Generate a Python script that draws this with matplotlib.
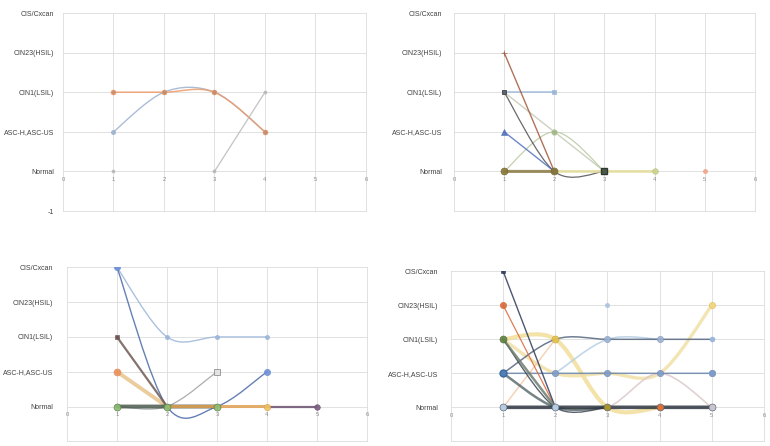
import numpy as np
import matplotlib
matplotlib.use("Agg")
import matplotlib.pyplot as plt
from matplotlib.path import Path
from matplotlib.patches import PathPatch

plt.rcParams["font.family"] = ["Liberation Sans", "DejaVu Sans"]

# visit number on the x axis, cytology grade on the y axis
visits = [1, 2, 3, 4, 5]
grades = ["-1", "Normal", "ASC-H,ASC-US", "CIN1(LSIL)", "CIN23(HSIL)", "CIS/Cxcan"]
grade_ticks = [-1, 0, 1, 2, 3, 4]
x_ticks = [0, 1, 2, 3, 4, 5, 6]
nan = np.nan

# panel 1 (top left)
p1_blue = [1, 2, 2, 1, nan]
p1_orange = [2, 2, 2, 1, nan]
p1_gray = [0, nan, 0, 2, nan]

# panel 2 (top right)
p2_brown = [3, 0, nan, nan, nan]
p2_blue = [2, 2, nan, nan, nan]
p2_dark = [2, 0, 0, nan, nan]
p2_sage = [2, 1, 0, nan, nan]
p2_green = [0, 1, 0, nan, nan]
p2_tri = [1, 0, nan, nan, nan]
p2_olive = [0, 0, nan, nan, nan]
p2_yellow = [nan, 0, 0, 0, nan]
p2_salmon = [nan, nan, nan, nan, 0]

# panel 3 (bottom left)
p3_light = [4, 2, 2, 2, nan]
p3_navy = [4, 0, 0, 1, nan]
p3_brown = [2, 0, nan, nan, nan]
p3_orange = [1, 0, nan, nan, nan]
p3_gray = [0, 0, 1, nan, nan]
p3_green = [0, 0, 0, nan, nan]
p3_gold = [nan, 0, 0, 0, nan]
p3_purple = [nan, nan, nan, 0, 0]

# panel 4 (bottom right)
p4_navy = [4, 0, nan, nan, nan]
p4_red = [3, 0, nan, nan, nan]
p4_green = [2, 0, nan, nan, nan]
p4_yellow1 = [2, 2, 0, 0, nan]
p4_yellow2 = [2, 1, 1, 1, 3]
p4_tan = [0, 2, nan, nan, nan]
p4_steel = [1, 2, 2, 2, 2]
p4_sky = [nan, 1, 2, 2, nan]
p4_blue = [1, 1, 1, 1, 1]
p4_pink = [nan, 0, 0, 1, 0]
p4_dot = [nan, nan, 3, nan, nan]
p4_base = [0, 0, 0, 0, 0]
p4_teal = [1, 0, 0, nan, nan]
p4_slate = [2, 0, 0, nan, nan]


def runs(vals):
    """Split a series into runs of consecutive valid points."""
    out, cur = [], []
    for x, y in zip(visits, vals):
        if np.isnan(y):
            if cur:
                out.append(cur)
            cur = []
        else:
            cur.append((x, y))
    if cur:
        out.append(cur)
    return out


def smooth_path(pts):
    """Excel-like smoothed line: cubic bezier segments (Catmull-Rom controls)."""
    p = np.array(pts, dtype=float)
    verts = [p[0]]
    codes = [Path.MOVETO]
    n = len(p)
    for i in range(n - 1):
        prev = p[i - 1] if i > 0 else p[i]
        nxt = p[i + 2] if i + 2 < n else p[i + 1]
        c1 = p[i] + (p[i + 1] - prev) / 6.0
        c2 = p[i + 1] - (nxt - p[i]) / 6.0
        verts += [c1, c2, p[i + 1]]
        codes += [Path.CURVE4] * 3
    return Path(verts, codes)


def draw(ax, vals, color, lw=1.0, marker="o", ms=3, mfc=None, mec=None,
         alpha=0.85, smooth=True, mark_at=None):
    for run in runs(vals):
        if len(run) > 1:
            if smooth:
                patch = PathPatch(smooth_path(run), fill=False, edgecolor=color,
                                  lw=lw, alpha=alpha, capstyle="round", zorder=3)
                ax.add_patch(patch)
            else:
                xs, ys = zip(*run)
                ax.plot(xs, ys, color=color, lw=lw, alpha=alpha, zorder=3,
                        solid_capstyle="round")
    if marker:
        xs = [x for x, y in zip(visits, vals) if not np.isnan(y)]
        ys = [y for y in vals if not np.isnan(y)]
        if mark_at is not None:
            sel = [i for i, x in enumerate(xs) if x in mark_at]
            xs = [xs[i] for i in sel]
            ys = [ys[i] for i in sel]
        ax.plot(xs, ys, ls="none", marker=marker, ms=ms,
                mfc=mfc or color, mec=mec or color, mew=0.5, alpha=0.9, zorder=4)


def setup(ax, show_minus, ypad):
    for side in ("top", "right", "left"):
        ax.spines[side].set_visible(False)
    # x tick labels sit on the zero line, like the original
    ax.spines["bottom"].set_position(("data", 0))
    ax.spines["bottom"].set_visible(False)
    ax.set_xlim(0, 6)
    ax.set_ylim(-1, 4)
    ax.set_xticks(x_ticks)
    ax.set_xticklabels([str(t) for t in x_ticks])
    ax.set_yticks(grade_ticks)
    labels = list(grades)
    if not show_minus:
        labels[0] = ""
    ax.set_yticklabels(labels)
    ax.tick_params(length=0)
    ax.tick_params(axis="y", pad=ypad, labelsize=5.0, labelcolor="#404040")
    ax.tick_params(axis="x", pad=4, labelsize=4.2, labelcolor="#8a8a8a")
    ax.grid(True, color="#dcdcdc", lw=0.6)
    for line in ax.get_xgridlines() + ax.get_ygridlines():
        line.set_clip_on(False)
    ax.set_axisbelow(True)


fig = plt.figure(figsize=(7.7, 4.46), dpi=100, facecolor="white")
ax1 = fig.add_axes([0.0818, 0.5269, 0.3935, 0.4439])
ax2 = fig.add_axes([0.5896, 0.5269, 0.3909, 0.4439])
ax3 = fig.add_axes([0.0870, 0.0105, 0.3896, 0.3901])
ax4 = fig.add_axes([0.5857, 0.0105, 0.4065, 0.3812])

setup(ax1, True, 6.5)
setup(ax2, False, 8.5)
setup(ax3, False, 10)
setup(ax4, False, 9.4)

# panel 1
draw(ax1, p1_blue, "#9cb2cf", lw=1.0, ms=3)
draw(ax1, p1_orange, "#ef9a6a", lw=1.1, ms=3.5, mfc="#c98a66")
draw(ax1, p1_gray, "#b8b8b8", lw=0.9, ms=2.2, smooth=False)

# panel 2
draw(ax2, p2_sage, "#c3c9b5", lw=1.0, marker=None)
draw(ax2, p2_green, "#b8c8a0", lw=0.9, ms=4, mfc="#9fb487", mark_at=[2])
draw(ax2, p2_blue, "#96b4da", lw=1.1, marker="s", ms=3, smooth=False)
draw(ax2, p2_dark, "#505050", lw=0.9, marker="s", ms=3.5, mfc="#5a5a5a", mec="#303030")
draw(ax2, p2_brown, "#a35a3c", lw=1.0, marker="+", ms=5, smooth=False, mark_at=[1])
draw(ax2, p2_tri, "#5472bc", lw=1.0, marker="^", ms=4, smooth=False, mark_at=[1])
draw(ax2, p2_yellow, "#e4dc9a", lw=2.0, marker="o", ms=4, mfc="#cbd28c", mec="#b8c080",
     mark_at=[4])
draw(ax2, p2_olive, "#8a7a44", lw=2.2, ms=5, mfc="#8c7a3a", mec="#6e6030")
draw(ax2, p2_salmon, "#f0a486", marker="o", ms=3)
ax2.plot([3], [0], ls="none", marker="s", ms=4.5, mfc="#4a5a4a", mec="#303830", zorder=5)

# panel 3
draw(ax3, p3_light, "#9cb6da", lw=1.0, ms=3)
draw(ax3, p3_navy, "#4a6aa8", lw=1.0, ms=4.5, mfc="#6f8fd6", mec="#6f8fd6", mark_at=[1, 4])
draw(ax3, p3_gray, "#9e9e9e", lw=0.9, marker="s", ms=3.8, mfc="#e4e4e4", mec="#707070",
     mark_at=[3])
draw(ax3, p3_orange, "#e8c48c", lw=2.8, ms=5, mfc="#e8905c", mec="#e8905c", smooth=False,
     mark_at=[1])
draw(ax3, p3_brown, "#6e5a56", lw=1.6, marker="s", ms=3.5, mfc="#6e5052", smooth=False,
     mark_at=[1])
draw(ax3, p3_green, "#4a5a4e", lw=2.8, ms=5, mfc="#8cbe6e", mec="#5a7a4a")
draw(ax3, p3_gold, "#e0a050", lw=2.2, ms=4.5, mfc="#f2c466", mec="#d8a040", mark_at=[4])
draw(ax3, p3_purple, "#6a5070", lw=1.6, ms=4, mfc="#7a6082", smooth=False, mark_at=[5])

# panel 4
draw(ax4, p4_yellow1, "#f0dc94", lw=3.0, alpha=0.8, ms=5, mfc="#e6c24c", mec="#c8a840",
     mark_at=[2])
draw(ax4, p4_yellow2, "#f0dfa0", lw=2.4, alpha=0.8, ms=4.5, mfc="#f0d67a", mec="#e0c060",
     mark_at=[5])
draw(ax4, p4_tan, "#f2c8a2", lw=1.0, marker=None, smooth=False)
draw(ax4, p4_pink, "#dccaca", lw=1.2, marker=None)
draw(ax4, p4_sky, "#b8cfe6", lw=1.2, marker=None)
draw(ax4, p4_steel, "#56667e", lw=1.1, ms=4.5, mfc="#9cb2d2", mec="#8aa0c0", mark_at=[3, 4])
draw(ax4, p4_blue, "#6a86ad", lw=1.1, ms=4.5, mfc="#7f9cc8", mec="#6f8cb8")
ax4.plot([5], [2], ls="none", marker="o", ms=3, mfc="#9cb6dc", mec="#9cb6dc", zorder=5)
ax4.plot([5], [1], ls="none", marker="o", ms=4, mfc="#7f9cc8", mec="#7f9cc8", zorder=5)
draw(ax4, p4_dot, "#aac2e0", ms=3)
draw(ax4, p4_teal, "#5e6e70", lw=1.8, marker=None)
draw(ax4, p4_slate, "#3e4656", lw=1.0, marker=None)
draw(ax4, p4_red, "#d8683a", lw=0.9, ms=4.5, smooth=False, mark_at=[1])
draw(ax4, p4_navy, "#2e3a5c", lw=1.0, marker="s", ms=2.8, smooth=False, mark_at=[1])
draw(ax4, p4_green, "#6e7e70", lw=1.8, ms=5, mfc="#5e8444", mec="#4a6a38", smooth=False,
     mark_at=[1])
draw(ax4, p4_base, "#2e3640", lw=2.6, marker=None)
base_colors = ["#b6cce2", "#b6cce2", "#a89428", "#e07034", "#c8c6cc"]
for xv, yv, c in zip(visits, p4_base, base_colors):
    ax4.plot([xv], [yv], ls="none", marker="o", ms=5, mfc=c, mec="#606878", mew=0.5,
             zorder=6)
ax4.plot([1], [1], ls="none", marker="o", ms=5, mfc="#4f7fb8", mec="#3e6a9e", zorder=6)

fig.savefig("out.png", dpi=100, facecolor="white")
